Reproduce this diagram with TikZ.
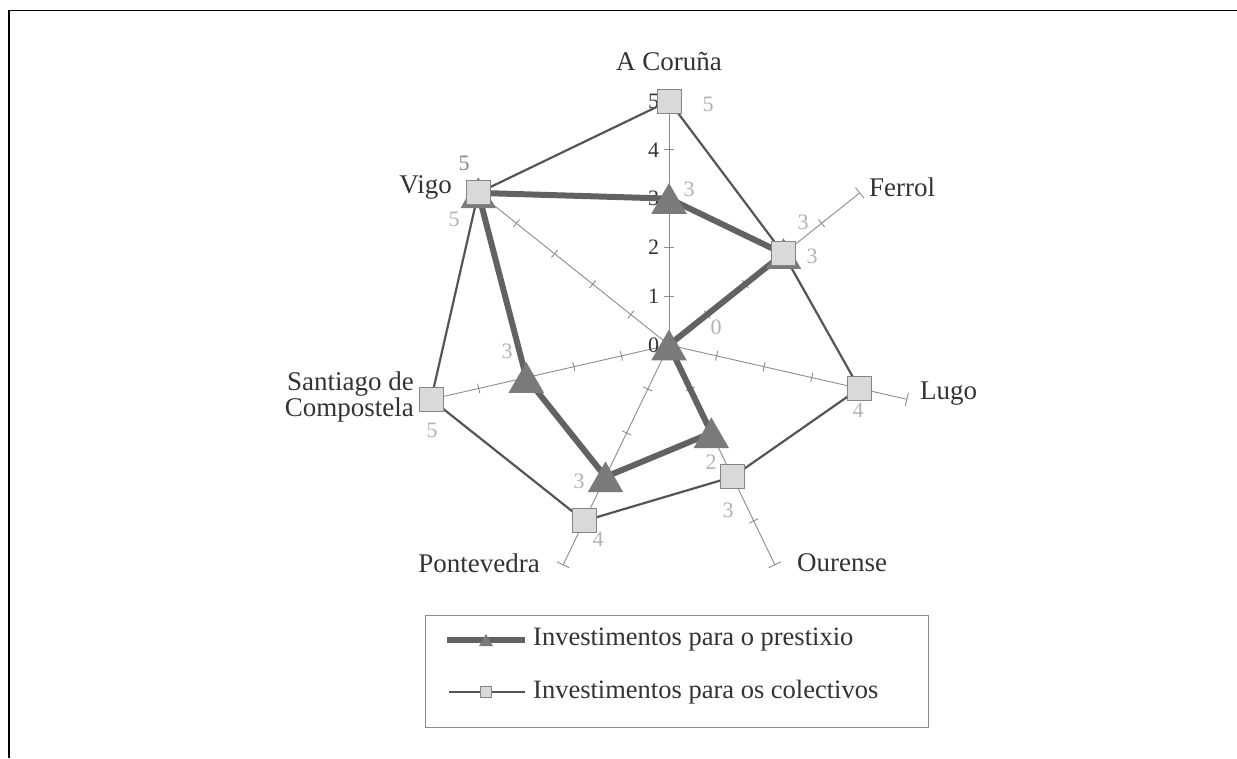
\documentclass[tikz,border=0pt]{standalone}
\usepackage{fontspec}
\setmainfont{Liberation Serif}
\usetikzlibrary{shapes.geometric}
\definecolor{axisgray}{HTML}{8C8C8C}
\definecolor{linegray}{HTML}{555555}
\definecolor{thickgray}{HTML}{626262}
\definecolor{trifill}{HTML}{7A7A7A}
\definecolor{sqfill}{HTML}{D9D9D9}
\definecolor{sqborder}{HTML}{858585}
\definecolor{lbl}{HTML}{B2B2B2}
\definecolor{txt}{HTML}{333333}
\begin{document}
\begin{tikzpicture}[x=1pt,y=-1pt,
  axisline/.style={draw=axisgray, line width=0.9pt},
  colline/.style={draw=linegray, line width=2.2pt, line join=round},
  preline/.style={draw=thickgray, line width=6pt, line join=round},
  sqmark/.style={rectangle, draw=sqborder, fill=sqfill, line width=1pt, minimum size=24pt, inner sep=0pt},
  trimark/.style={regular polygon, regular polygon sides=3, fill=trifill, draw=none, minimum size=41pt, inner sep=0pt, yshift=-5pt},
  catlbl/.style={font=\fontsize{27}{27}\selectfont, text=txt, inner sep=0pt},
  axlbl/.style={font=\fontsize{22}{22}\selectfont, text=txt, inner sep=0pt},
  datlbl/.style={font=\fontsize{22}{22}\selectfont, text=lbl, inner sep=0pt},
  legtext/.style={font=\fontsize{26.5}{27}\selectfont, text=txt, inner sep=0pt, anchor=west},
]
\useasboundingbox (0,0) rectangle (1237,758);
% frame
\draw[black, line width=1.6pt] (9,758) -- (9,10.5) -- (1237,10.5);

\begin{scope}[shift={(669,345)}, x=48.8pt, y=48.8pt]
  \coordinate (O) at (0,0);
  \foreach \i/\a in {1/90,2/38.571,3/-12.857,4/-64.286,5/-115.714,6/-167.143,7/141.429}{
    \coordinate (E\i) at (\a:5);
    \draw[axisline] (O) -- (E\i);
    \foreach \k in {1,2,3,4}{
      \draw[axisline, rotate=\a] (\k,-0.1) -- (\k,0.1);
    }
    \draw[axisline, rotate=\a] (5,-0.14) -- (5,0.14);
  }
  \foreach \k in {0,...,5}{
    \node[axlbl, anchor=east] (ax\k) at (-0.2,\k) {\k};
  }
  % collective values
  \coordinate (C1) at (90:5);
  \coordinate (C2) at (38.571:3);
  \coordinate (C3) at (-12.857:4);
  \coordinate (C4) at (-64.286:3);
  \coordinate (C5) at (-115.714:4);
  \coordinate (C6) at (-167.143:5);
  \coordinate (C7) at (141.429:5);
  % prestige values
  \coordinate (P1) at (90:3);
  \coordinate (P2) at (38.571:3);
  \coordinate (P3) at (0,0);
  \coordinate (P4) at (-64.286:2);
  \coordinate (P5) at (-115.714:3);
  \coordinate (P6) at (-167.143:3);
  \coordinate (P7) at (141.429:5);
  \draw[colline] (C1) -- (C2) -- (C3) -- (C4) -- (C5) -- (C6) -- (C7) -- cycle;
  \draw[preline] (P1) -- (P2) -- (P3) -- (P4) -- (P5) -- (P6) -- (P7) -- cycle;
  \foreach \i in {1,...,7}{
    \node[trimark] (t\i) at (P\i) {};
  }
  \foreach \i in {1,...,7}{
    \node[sqmark] (s\i) at (C\i) {};
  }
\end{scope}

% category labels
\node[catlbl] (lc) at (669,62) {A Coruña};
\node[catlbl, anchor=west] (lf) at (869,187) {Ferrol};
\node[catlbl, anchor=west] (ll) at (920,394) {Lugo};
\node[catlbl, anchor=west] (lo) at (797,563) {Ourense};
\node[catlbl, anchor=east] (lp) at (540,563) {Pontevedra};
\node[catlbl, anchor=east, align=right] (ls) at (414,397) {Santiago de\\[-1pt]Compostela};
\node[catlbl, anchor=east] (lv) at (452,187) {Vigo};

% data labels
\node[datlbl] (d1a) at (708,104) {5};
\node[datlbl] (d1b) at (689,189) {3};
\node[datlbl] (d2a) at (803,222) {3};
\node[datlbl] (d2b) at (812,256) {3};
\node[datlbl] (d3a) at (716,327) {0};
\node[datlbl] (d3b) at (858,410) {4};
\node[datlbl] (d4a) at (711,462) {2};
\node[datlbl] (d4b) at (728,510) {3};
\node[datlbl] (d5a) at (579,481) {3};
\node[datlbl] (d5b) at (598,539) {4};
\node[datlbl] (d6a) at (507,351) {3};
\node[datlbl] (d6b) at (432,430) {5};
\node[datlbl, text=txt!60] (d7a) at (464,163) {5};
\node[datlbl] (d7b) at (454,219) {5};

% legend
\draw[draw=axisgray, line width=1pt] (425,615) rectangle (928,727);
\coordinate (la1) at (447,640);
\coordinate (lb1) at (525,640);
\coordinate (la2) at (449,692);
\coordinate (lb2) at (525,692);
\draw[preline] (la1) -- (lb1);
\node[trimark, minimum size=16pt, yshift=3pt] (lt) at (486,640) {};
\draw[colline, line width=1.6pt] (la2) -- (lb2);
\node[sqmark, minimum size=11pt] (lsq) at (486,692) {};
\node[legtext] (lg1) at (533,640) {Investimentos para o prestixio};
\node[legtext] (lg2) at (533,692) {Investimentos para os colectivos};
\end{tikzpicture}
\end{document}
